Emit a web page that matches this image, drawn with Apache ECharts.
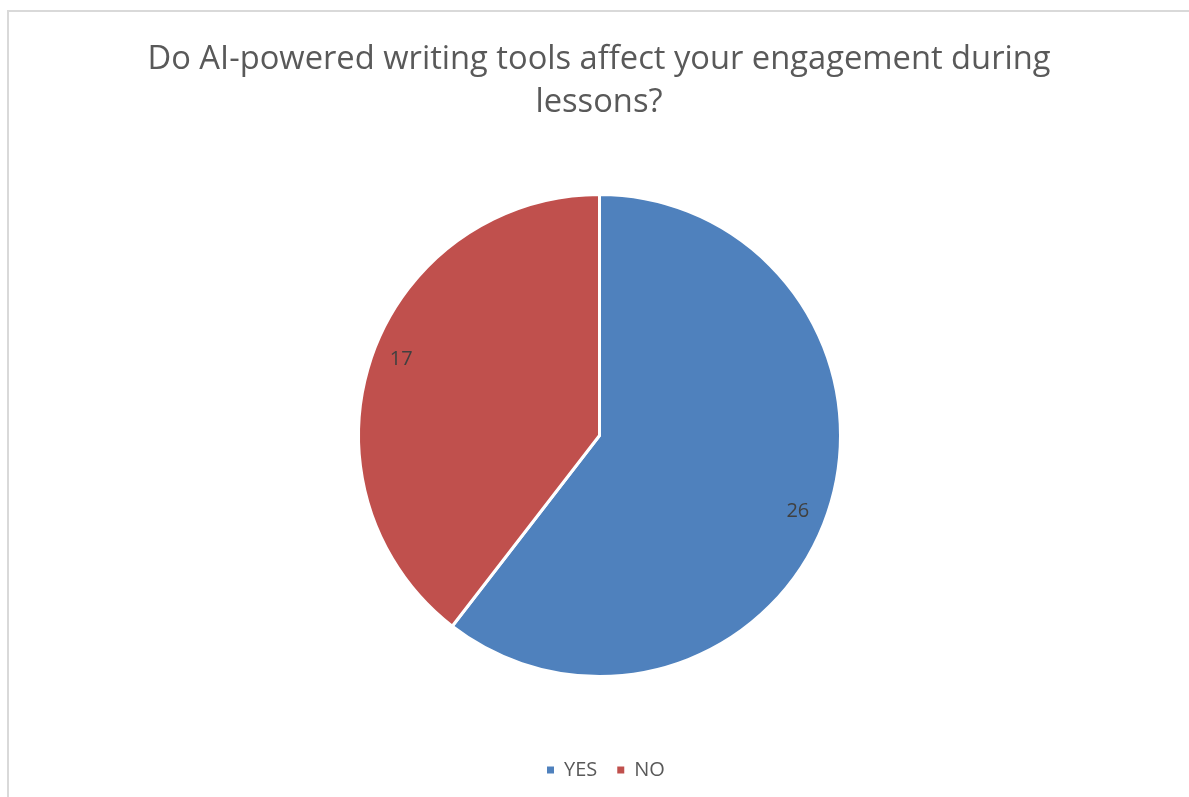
<!DOCTYPE html>
<html>
<head>
<meta charset="utf-8">
<script src="https://cdn.jsdelivr.net/npm/echarts@6/dist/echarts.min.js"></script>
<style>
  html, body { margin: 0; padding: 0; background: #ffffff; }
  #frame { position: absolute; left: 7px; top: 10px; width: 1190px; height: 800px; border: 2px solid #d9d9d9; box-sizing: border-box; }
  #chart { position: absolute; left: 0; top: 0; width: 1189px; height: 797px; }
</style>
</head>
<body>
<div id="frame"></div>
<div id="chart"></div>
<script>
// Survey answers
const categories = ['YES', 'NO'];
const counts = [26, 17];
const colors = ['#4f81bd', '#c0504d'];
const titleText = 'Do AI-powered writing tools affect your engagement during\nlessons?';

const chart = echarts.init(document.getElementById('chart'), null, { renderer: 'canvas' });

const CX = 599.5, CY = 435.5;
const FONT = '"Open Sans", "Noto Sans", sans-serif';

const sliceData = categories.map((name, i) => ({
  name: name,
  value: counts[i],
  itemStyle: { color: colors[i] }
}));

// nudge each value label a little further clockwise around the centre
const LABEL_TURN = 2.2 * Math.PI / 180;
function turnLabel(params) {
  const r = params.labelRect;
  const dx = r.x + r.width / 2 - CX;
  const dy = r.y + r.height / 2 - CY;
  const c = Math.cos(LABEL_TURN), s = Math.sin(LABEL_TURN);
  return {
    x: CX + dx * c - dy * s,
    y: CY + dx * s + dy * c,
    align: 'center',
    verticalAlign: 'middle'
  };
}

chart.setOption({
  backgroundColor: 'transparent',
  animation: false,
  title: {
    text: titleText,
    left: 594,
    top: 33,
    textAlign: 'center',
    textStyle: {
      fontFamily: FONT,
      fontSize: 32.7,
      fontWeight: 'normal',
      color: '#595959',
      lineHeight: 43
    }
  },
  legend: {
    top: 755,
    left: 540,
    icon: 'rect',
    itemWidth: 9,
    itemHeight: 9,
    itemGap: 18,
    textStyle: { fontFamily: FONT, fontSize: 20, color: '#595959', padding: [0, 0, 0, 4] },
    data: categories.map((name, i) => ({ name: name, itemStyle: { color: colors[i] } }))
  },
  series: [
    {
      type: 'pie',
      center: [CX, CY],
      radius: [0, 241],
      startAngle: 90,
      clockwise: true,
      silent: true,
      label: { show: false },
      labelLine: { show: false },
      itemStyle: { borderColor: '#ffffff', borderWidth: 3 },
      data: sliceData
    },
    {
      // value labels placed near the rim of each slice
      type: 'pie',
      center: [CX, CY],
      radius: [178, 241],
      startAngle: 90,
      clockwise: true,
      silent: true,
      legendHoverLink: false,
      itemStyle: { color: 'rgba(0,0,0,0)', borderWidth: 0 },
      label: {
        show: true,
        position: 'inside',
        formatter: '{c}',
        fontFamily: FONT,
        fontSize: 20,
        color: '#404040'
      },
      labelLine: { show: false },
      labelLayout: turnLabel,
      data: categories.map((name, i) => ({ name: name, value: counts[i] }))
    }
  ]
});
</script>
</body>
</html>
